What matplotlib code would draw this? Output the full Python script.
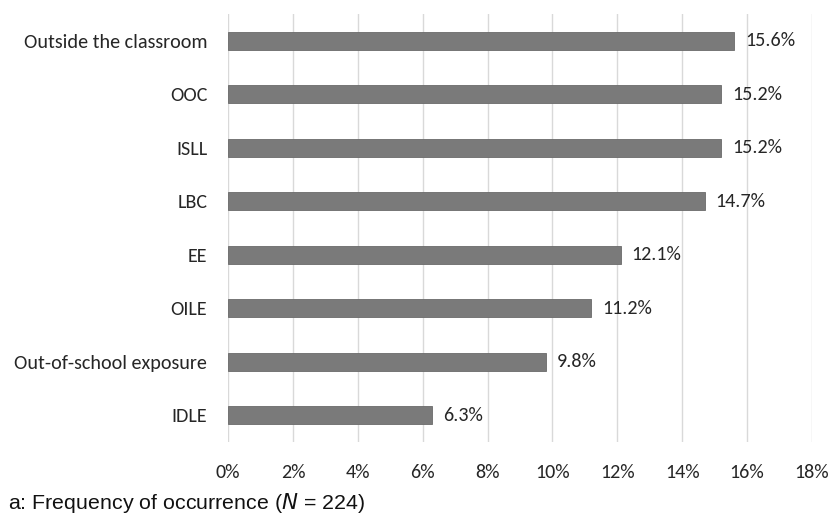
import matplotlib
matplotlib.use("Agg")
import matplotlib.pyplot as plt
from matplotlib.ticker import FuncFormatter

# ---- data (top to bottom as shown) ----
categories = ["Outside the classroom", "OOC", "ISLL", "LBC", "EE", "OILE",
              "Out-of-school exposure", "IDLE"]
values = [15.6, 15.2, 15.2, 14.7, 12.1, 11.2, 9.8, 6.3]
xticks = [0, 2, 4, 6, 8, 10, 12, 14, 16, 18]

BAR = "#7a7a7a"
EDGE = "#6a6a6a"
GRID = "#d9d9d9"
INK = "#262626"
FONT = ["Carlito", "Lato", "DejaVu Sans"]   # Calibri-metric
FS = 14.5

fig = plt.figure(figsize=(8.34, 5.16), dpi=100)
ax = fig.add_axes([0.2734, 0.1434, 0.7002, 0.8295])

ypos = list(range(len(categories)))[::-1]
ax.barh(ypos, values, height=0.33, color=BAR, edgecolor=EDGE, linewidth=0.6, zorder=2)

# value labels to the right of each bar
for y, v in zip(ypos, values):
    ax.text(v + 0.33, y, f"{v:.1f}%", va="center", ha="left",
            fontsize=FS, color=INK, family=FONT)

ax.set_xlim(0, 18)
ax.set_ylim(-0.5, len(categories) - 0.5)
ax.set_xticks(xticks)
ax.xaxis.set_major_formatter(FuncFormatter(lambda x, _: f"{x:.0f}%"))
ax.set_yticks(ypos)
ax.set_yticklabels(categories)
for lab in ax.get_xticklabels() + ax.get_yticklabels():
    lab.set_family(FONT)
    lab.set_fontsize(FS)
    lab.set_color(INK)
ax.tick_params(length=0)
ax.tick_params(axis="x", pad=16)
ax.tick_params(axis="y", pad=15)

ax.grid(axis="x", color=GRID, linewidth=1.0, zorder=0)
ax.set_axisbelow(True)
for s in ax.spines.values():
    s.set_visible(False)

fig.text(0.009, 0.0136, "a: Frequency of occurrence ($\\mathit{N}$ = 224)",
         fontsize=15.4, color="#111111", family=["Liberation Sans", "DejaVu Sans"],
         ha="left", va="baseline")

fig.savefig("out.png", dpi=100, facecolor="white")
